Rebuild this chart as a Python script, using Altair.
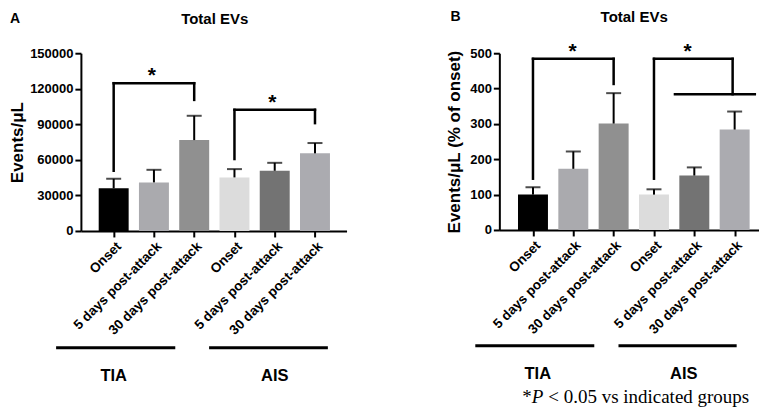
import json
import altair as alt
import pandas as pd

# ---------------- data ----------------
CONDITIONS = ["Onset", "5 days post-attack", "30 days post-attack",
              "Onset", "5 days post-attack", "30 days post-attack"]
GROUPS = ["TIA", "TIA", "TIA", "AIS", "AIS", "AIS"]
GROUP_NAMES = ["TIA", "AIS"]

A_MEAN = [36000, 41000, 76700, 45200, 50800, 65500]
A_ERR_TOP = [44000, 51600, 97200, 52200, 57500, 74200]
A_TICKS = [0, 30000, 60000, 90000, 120000, 150000]

B_MEAN = [100, 173, 301, 100, 154, 284]
B_ERR_TOP = [121, 222, 387, 115, 177, 335]
B_TICKS = [0, 100, 200, 300, 400, 500]

# significance brackets: (left index, right index, top, left-leg bottom, right-leg bottom)
A_BRACKETS = [(0, 2, 124700, 50800, 110600), (3, 5, 102200, 60700, 91000)]
B_BRACKETS = [(0, 2, 484, 145, 413), (3, 4.95, 484, 145, 384)]
B_EXTRA_LINES = [(3.52, 5.5, 384)]
A_STAR_X = [0.95, 3.94]
B_STAR_X = [0.98, 3.83]

# group underline spans (in bar-index units) and group label centres
A_GROUP_SPANS = [(-1.43, 1.53), (2.37, 5.32)]
A_GROUP_TEXT_X = [0.0, 4.0]
B_GROUP_SPANS = [(-1.43, 1.52), (2.12, 5.05)]
B_GROUP_TEXT_X = [0.12, 3.74]

# ---------------- styles ----------------
COLORS = ["#000000", "#aaaaae", "#909090", "#dcdcdc", "#737373", "#ababb0"]
FONT = "Liberation Sans"
SERIF = "Liberation Serif"


def panel(mean, err, ticks, ymax, xdom, width, height, ytitle, title_pad,
          letter, letter_x, head_y, title_x, brackets, star_x, extra_lines,
          spans, gtext_x, line_y, gtext_y, footnote_y=None):
    keys = [f"{g} {c}" for g, c in zip(GROUPS, CONDITIONS)]
    df = pd.DataFrame({"idx": list(range(6)), "key": keys,
                       "mean": mean, "err": err})

    xscale = alt.Scale(domain=xdom, nice=False, zero=False)
    yscale = alt.Scale(domain=[0, ymax], nice=False)
    xaxis = alt.Axis(values=list(range(6)),
                     labelExpr=json.dumps(CONDITIONS) + "[datum.value]",
                     labelAngle=-45, labelAlign="right", labelBaseline="top",
                     labelFont=FONT, labelFontSize=13.5, labelFontWeight="bold",
                     labelColor="black", labelPadding=2, labelOverlap=False,
                     labelFlush=False, tickSize=6, tickWidth=2, tickColor="black",
                     domainWidth=2, domainColor="black", grid=False)
    yaxis = alt.Axis(values=ticks, format="d", title=ytitle,
                     titleFont=FONT, titleFontSize=17, titleFontWeight="bold",
                     titleColor="black", titlePadding=title_pad,
                     labelFont=FONT, labelFontSize=13, labelFontWeight="bold",
                     labelColor="black", labelPadding=2,
                     tickSize=6, tickWidth=2, tickColor="black",
                     domainWidth=2, domainColor="black", grid=False)

    def X(field):
        return alt.X(field, scale=xscale, axis=xaxis, title=None)

    def Y(field):
        return alt.Y(field, scale=yscale, axis=yaxis, title=ytitle)

    base = alt.Chart(df)
    bars = base.mark_bar(size=30).encode(
        x=X("idx:Q"), y=Y("mean:Q"),
        color=alt.Color("key:N", scale=alt.Scale(domain=keys, range=COLORS),
                        legend=None))
    errs = base.mark_rule(strokeWidth=2, color="black").encode(
        x=X("idx:Q"), y=Y("mean:Q"), y2="err:Q")
    caps = base.mark_tick(orient="horizontal", size=15, thickness=2,
                          color="black").encode(x=X("idx:Q"), y=Y("err:Q"))

    segs = []
    for l, r, top, lb, rb in brackets:
        segs.append({"x": l, "x2": r, "y": top, "y2": top})
        segs.append({"x": l, "x2": l, "y": top, "y2": lb})
        segs.append({"x": r, "x2": r, "y": top, "y2": rb})
    for l, r, yv in extra_lines:
        segs.append({"x": l, "x2": r, "y": yv, "y2": yv})
    seg_df = pd.DataFrame(segs)
    bracket = alt.Chart(seg_df).mark_rule(
        strokeWidth=2.5, color="black", strokeCap="square").encode(
        x=X("x:Q"), x2="x2:Q", y=Y("y:Q"), y2="y2:Q")

    star_df = pd.DataFrame({"sx": star_x, "sy": [b[2] for b in brackets]})
    stars = alt.Chart(star_df).mark_text(
        text="*", font=FONT, fontSize=21, fontWeight="bold", color="black",
        align="center", baseline="alphabetic", dy=-1).encode(
        x=X("sx:Q"), y=Y("sy:Q"))

    span_df = pd.DataFrame({"gx": [s[0] for s in spans],
                            "gx2": [s[1] for s in spans],
                            "g": GROUP_NAMES, "tx": gtext_x})
    glines = alt.Chart(span_df).mark_rule(strokeWidth=3, color="black").encode(
        x=X("gx:Q"), x2="gx2:Q", y=alt.value(line_y))
    gtext = alt.Chart(span_df).mark_text(
        font=FONT, fontSize=16.5, fontWeight="bold", color="black",
        align="center", baseline="middle").encode(
        x=X("tx:Q"), y=alt.value(gtext_y), text="g:N")

    one = pd.DataFrame({"t": [letter]})
    letter_mark = alt.Chart(one).mark_text(
        font=FONT, fontSize=14, fontWeight="bold", color="black",
        align="left", baseline="top").encode(
        x=alt.value(letter_x), y=alt.value(head_y), text="t:N")
    title_mark = alt.Chart(one).mark_text(
        text="Total EVs", font=FONT, fontSize=15, fontWeight="bold",
        color="black", align="center", baseline="top").encode(
        x=alt.value(title_x), y=alt.value(head_y))

    layers = [bars, errs, caps, bracket, stars, glines, gtext,
              letter_mark, title_mark]

    if footnote_y is not None:
        fy = footnote_y
        f1 = alt.Chart(one).mark_text(
            text="*", font=SERIF, fontSize=19, color="black", align="left",
            baseline="alphabetic").encode(x=alt.value(23), y=alt.value(fy))
        f2 = alt.Chart(one).mark_text(
            text="P", font=SERIF, fontSize=19, fontStyle="italic",
            color="black", align="left", baseline="alphabetic").encode(
            x=alt.value(32.5), y=alt.value(fy))
        f3 = alt.Chart(one).mark_text(
            text="< 0.05 vs indicated groups", font=SERIF, fontSize=19,
            color="black", align="left", baseline="alphabetic").encode(
            x=alt.value(49), y=alt.value(fy))
        layers += [f1, f2, f3]

    return alt.layer(*layers).properties(width=width, height=height)


panel_a = panel(A_MEAN, A_ERR_TOP, A_TICKS, 150000, [-0.69, 5.66], 266, 178,
                "Events/μL", 3, "A", -71, -41, 134, A_BRACKETS, A_STAR_X, [],
                A_GROUP_SPANS, A_GROUP_TEXT_X, 295, 323)
panel_b = panel(B_MEAN, B_ERR_TOP, B_TICKS, 500, [-0.71, 5.48], 260, 177,
                "Events/μL (% of onset)", 6, "B", -49, -43, 135, B_BRACKETS,
                B_STAR_X, B_EXTRA_LINES, B_GROUP_SPANS, B_GROUP_TEXT_X,
                293, 321, footnote_y=350)

chart = alt.hconcat(panel_a, panel_b, spacing=99).properties(
    padding={"left": 0, "top": 2, "right": 0, "bottom": 0},
    background="white"
).configure_view(strokeWidth=0)

chart.save("out.html", embed_options={"renderer": "svg", "actions": False})
